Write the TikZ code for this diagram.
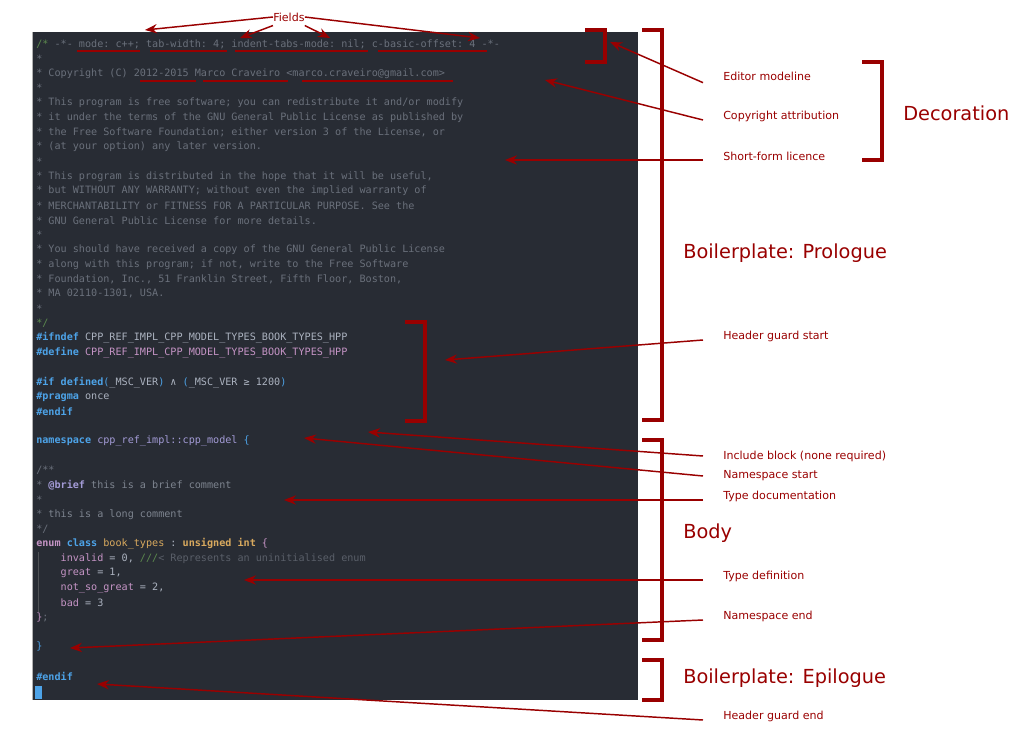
\documentclass[tikz,border=0pt]{standalone}
\usepackage{fontspec}
\setmainfont{DejaVu Sans}
\setmonofont{DejaVu Sans Mono}
\usetikzlibrary{arrows.meta}
\definecolor{bg}{HTML}{282C34}
\definecolor{cm}{HTML}{6A707B}
\definecolor{kw}{HTML}{4DA3E8}
\definecolor{tx}{HTML}{ABB2BF}
\definecolor{pu}{HTML}{C594C5}
\definecolor{ns}{HTML}{A39BD6}
\definecolor{go}{HTML}{D8A95E}
\definecolor{gr}{HTML}{5C8A4E}
\definecolor{rd}{HTML}{990000}
\newcommand{\K}[1]{\textcolor{kw}{\bfseries #1}}
\begin{document}
\begin{tikzpicture}[x=0.75pt,y=-0.75pt,
  code/.style={anchor=west,inner sep=0pt,font=\ttfamily\fontsize{7.6pt}{9pt}\selectfont,text=cm},
  lab/.style={anchor=west,inner sep=0pt,text=rd,font=\fontsize{8.3pt}{10pt}\selectfont},
  big/.style={anchor=west,inner sep=0pt,text=rd,font=\fontsize{14.5pt}{17pt}\selectfont},
  ar/.style={rd,line width=1.1pt,-{Stealth[length=9pt,width=7pt]}},
  brk/.style={rd,line width=2.6pt},
  ul/.style={rd,line width=1.3pt}]
\useasboundingbox (0,0) rectangle (1028,748);
\fill[bg] (32,32) rectangle (638,700);
\draw[gray!60,line width=1.2pt] (32.5,32) -- (32.5,700);
\draw[gray!45!bg,line width=0.6pt] (38,552) -- (38,612);
% code
\node[code] (c0) at (36,44) {\textcolor{gr}{/*} -*- mode: c++; tab-width: 4; indent-tabs-mode: nil; c-basic-offset: 4 -*-};
\node[code] (c1) at (36,58.7) { *};
\node[code] (c2) at (36,73.4) { * Copyright (C) 2012-2015 Marco Craveiro <marco.craveiro@gmail.com>};
\node[code] (c3) at (36,88.1) { *};
\node[code] (c4) at (36,102.8) { * This program is free software; you can redistribute it and/or modify};
\node[code] (c5) at (36,117.5) { * it under the terms of the GNU General Public License as published by};
\node[code] (c6) at (36,132.2) { * the Free Software Foundation; either version 3 of the License, or};
\node[code] (c7) at (36,146.9) { * (at your option) any later version.};
\node[code] (c8) at (36,161.6) { *};
\node[code] (c9) at (36,176.3) { * This program is distributed in the hope that it will be useful,};
\node[code] (c10) at (36,191) { * but WITHOUT ANY WARRANTY; without even the implied warranty of};
\node[code] (c11) at (36,205.7) { * MERCHANTABILITY or FITNESS FOR A PARTICULAR PURPOSE. See the};
\node[code] (c12) at (36,220.4) { * GNU General Public License for more details.};
\node[code] (c13) at (36,235.1) { *};
\node[code] (c14) at (36,249.8) { * You should have received a copy of the GNU General Public License};
\node[code] (c15) at (36,264.5) { * along with this program; if not, write to the Free Software};
\node[code] (c16) at (36,279.2) { * Foundation, Inc., 51 Franklin Street, Fifth Floor, Boston,};
\node[code] (c17) at (36,293.9) { * MA 02110-1301, USA.};
\node[code] (c18) at (36,308.6) { *};
\node[code] (c19) at (36,323.3) { \textcolor{gr}{*/}};
\node[code] (c20) at (36,338) {\K{\#ifndef} \textcolor{tx}{CPP\_REF\_IMPL\_CPP\_MODEL\_TYPES\_BOOK\_TYPES\_HPP}};
\node[code] (c21) at (36,352.7) {\K{\#define} \textcolor{pu}{CPP\_REF\_IMPL\_CPP\_MODEL\_TYPES\_BOOK\_TYPES\_HPP}};
\node[code] (c23) at (36,382.1) {\K{\#if defined}\textcolor{kw}{(}\textcolor{tx}{\_MSC\_VER}\textcolor{kw}{)} \textcolor{tx}{∧} \textcolor{kw}{(}\textcolor{tx}{\_MSC\_VER ≥ 1200}\textcolor{kw}{)}};
\node[code] (c24) at (36,396.8) {\K{\#pragma} \textcolor{tx}{once}};
\node[code] (c25) at (36,411.5) {\K{\#endif}};
\node[code] (c27) at (36,440.9) {\K{namespace} \textcolor{ns}{cpp\_ref\_impl::cpp\_model} \textcolor{kw}{\{}};
\node[code] (c29) at (36,470.3) {/**};
\node[code] (c30) at (36,485) { * \textcolor{ns}{\bfseries @brief} \textcolor{cm!70!tx}{this is a brief comment}};
\node[code] (c31) at (36,499.7) { *};
\node[code] (c32) at (36,514.4) { * \textcolor{cm!70!tx}{this is a long comment}};
\node[code] (c33) at (36,529.1) { */};
\node[code] (c34) at (36,543.8) {\textcolor{pu}{\bfseries enum} \K{class} \textcolor{go}{book\_types} \textcolor{tx}{:} \textcolor{go}{\bfseries unsigned int} \textcolor{pu}{\{}};
\node[code] (c35) at (36,558.5) {\textcolor{pu}{\ \ \ \ invalid} \textcolor{tx}{= 0,} \textcolor{gr}{///}\textcolor{cm!75!bg}{< Represents an uninitialised enum}};
\node[code] (c36) at (36,573.2) {\textcolor{pu}{\ \ \ \ great} \textcolor{tx}{= 1,}};
\node[code] (c37) at (36,587.9) {\textcolor{pu}{\ \ \ \ not\_so\_great} \textcolor{tx}{= 2,}};
\node[code] (c38) at (36,602.6) {\textcolor{pu}{\ \ \ \ bad} \textcolor{tx}{= 3}};
\node[code] (c39) at (36,617.3) {\textcolor{pu}{\}};};
\node[code] (c41) at (36,646.7) {\textcolor{kw}{\}}};
\node[code] (c43) at (36,676.1) {\K{\#endif}};
\fill[kw] (35,686) rectangle (42,699);
% underlines
\draw[ul] (77,51) -- (140,51) (150,51) -- (227,51) (235,51) -- (368,51) (378,51) -- (487,51);
\draw[ul] (140,81) -- (196,81) (203,81) -- (288,81) (302,81) -- (453,81);
% brackets
\draw[brk] (585,30) -- (605,30) -- (605,62) -- (585,62);
\draw[brk] (405,322) -- (425,322) -- (425,421) -- (405,421);
\draw[brk] (642,30) -- (662,30) -- (662,420) -- (642,420);
\draw[brk] (862,62) -- (882,62) -- (882,160) -- (862,160);
\draw[brk] (642,440) -- (662,440) -- (662,640) -- (642,640);
\draw[brk] (642,660) -- (662,660) -- (662,700) -- (642,700);
% labels
\node[lab] (fields) at (273,17) {Fields};
\node[lab] (em) at (723,76) {Editor modeline};
\node[lab] (ca) at (723,116) {Copyright attribution};
\node[lab] (sf) at (723,156) {Short-form licence};
\node[lab] (hgs) at (723,336) {Header guard start};
\node[lab] (ib) at (723,456) {Include block (none required)};
\node[lab] (nss) at (723,476) {Namespace start};
\node[lab] (td) at (723,496) {Type documentation};
\node[lab] (tdef) at (723,576) {Type definition};
\node[lab] (nse) at (723,616) {Namespace end};
\node[lab] (hge) at (723,716) {Header guard end};
\node[big] (dec) at (903,113) {Decoration};
\node[big] (pro) at (683,253) {Boilerplate: Prologue};
\node[big] (body) at (683,533) {Body};
\node[big] (epi) at (683,678) {Boilerplate: Epilogue};
% targets
\coordinate (f1) at (145,30); \coordinate (f2) at (240,38);
\coordinate (f3) at (330,38); \coordinate (f4) at (480,38);
\coordinate (tem) at (610,42); \coordinate (tca) at (545,80);
\coordinate (tsf) at (505,160); \coordinate (thgs) at (445,360);
\coordinate (tib) at (368,432); \coordinate (tnss) at (304,438);
\coordinate (ttd) at (284,500); \coordinate (ttdef) at (244,580);
\coordinate (tnse) at (70,648); \coordinate (thge) at (97,684);
\draw[ar] (fields.west) -- (f1);
\draw[ar] ([yshift=-3pt]fields.south west) -- (f2);
\draw[ar] ([yshift=-3pt]fields.south east) -- (f3);
\draw[ar] (fields.east) -- (f4);
\draw[ar] ([xshift=-15pt,yshift=-5pt]em.west) -- (tem);
\draw[ar] ([xshift=-15pt,yshift=-3pt]ca.west) -- (tca);
\draw[ar] ([xshift=-15pt,yshift=-3pt]sf.west) -- (tsf);
\draw[ar] ([xshift=-15pt,yshift=-3pt]hgs.west) -- (thgs);
\draw[ar] ([xshift=-15pt]ib.west) -- (tib);
\draw[ar] ([xshift=-15pt]nss.west) -- (tnss);
\draw[ar] ([xshift=-15pt,yshift=-3pt]td.west) -- (ttd);
\draw[ar] ([xshift=-15pt,yshift=-3pt]tdef.west) -- (ttdef);
\draw[ar] ([xshift=-15pt,yshift=-3pt]nse.west) -- (tnse);
\draw[ar] ([xshift=-15pt,yshift=-3pt]hge.west) -- (thge);
\end{tikzpicture}
\end{document}
